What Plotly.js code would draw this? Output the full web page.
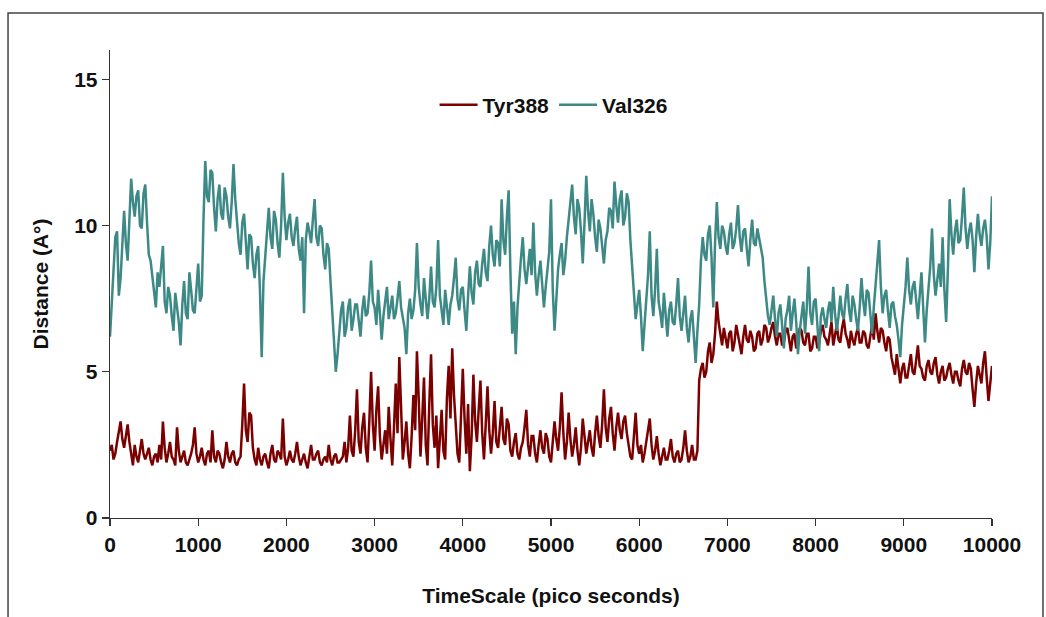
<!DOCTYPE html>
<html>
<head>
<meta charset="utf-8">
<script src="https://cdn.plot.ly/plotly-3.0.1.min.js"></script>
<style>
html,body{margin:0;padding:0;background:#fff;}
#chart{width:1046px;height:617px;}
</style>
</head>
<body>
<div id="chart"></div>
<script>
// Time grid (pico seconds), sampled every 20 ps
const timeStep = 20;
const time = Array.from({length: 501}, (_, i) => i * timeStep);

const tyr388 = [
  2.3,2.5,2.0,2.2,2.6,2.9,3.3,2.7,2.4,2.8,3.2,2.6,2.1,1.8,2.5,2.1,1.9,2.3,2.7,2.2,
  2.0,2.2,2.4,2.0,1.8,2.1,2.2,1.9,2.5,2.0,3.3,2.4,1.9,2.2,2.6,2.1,2.0,1.8,3.1,2.3,
  1.9,2.1,2.3,1.9,1.8,2.0,2.2,2.5,3.1,2.2,1.9,2.1,2.4,2.0,1.8,2.2,2.3,1.9,3.0,2.1,
  1.9,2.3,2.2,1.9,1.7,2.0,2.6,2.1,1.9,2.2,2.3,1.9,1.8,2.0,2.1,3.2,4.6,3.0,2.6,3.6,
  3.5,2.4,2.0,1.8,2.4,2.0,1.8,2.1,2.2,1.9,1.7,2.2,2.5,2.0,1.9,2.3,2.2,2.0,3.4,2.1,
  1.8,2.0,2.3,2.0,1.9,2.2,2.6,2.1,1.8,2.0,2.2,1.9,1.7,2.1,2.5,2.0,2.0,2.2,2.3,1.9,
  1.8,2.0,2.1,1.9,2.5,2.0,1.8,2.1,2.2,1.9,1.9,2.0,2.1,2.6,1.9,2.4,3.5,2.3,2.1,3.0,
  4.4,2.6,2.2,3.1,3.6,2.4,1.9,3.3,5.0,3.2,2.3,3.7,4.5,2.8,2.0,2.5,3.0,2.2,3.8,2.7,
  1.8,3.1,4.6,2.9,5.5,3.8,2.0,2.6,3.3,2.2,1.7,2.8,4.2,3.0,5.7,4.1,2.1,3.4,4.8,2.5,
  1.8,3.9,5.6,3.2,2.4,3.5,1.7,2.7,3.7,2.3,2.0,4.1,5.2,3.4,5.8,4.2,3.0,2.2,1.9,3.6,
  5.1,3.4,2.2,3.9,1.6,2.8,4.9,3.3,2.6,3.7,4.7,2.9,2.0,3.2,4.5,3.0,2.2,2.9,4.0,2.6,
  2.4,3.1,3.8,2.7,2.5,3.4,3.2,2.3,2.1,2.6,2.9,2.2,2.0,2.4,2.6,3.1,3.7,2.5,2.1,2.8,
  2.8,2.2,1.9,2.5,3.0,2.4,2.2,2.9,2.7,2.1,1.9,2.6,3.3,2.7,2.3,3.1,4.3,2.9,2.0,2.6,
  3.6,2.7,2.1,2.5,3.1,2.3,1.8,2.4,3.4,2.8,2.2,2.6,3.0,2.4,2.1,2.9,3.5,2.8,2.4,3.2,
  4.4,3.1,2.6,3.4,3.8,2.9,2.3,3.1,3.6,3.0,2.7,3.3,3.5,2.9,2.4,2.1,2.0,2.7,3.6,2.5,
  2.2,2.5,1.9,2.2,2.6,2.9,3.4,2.5,2.0,2.3,2.8,2.2,1.8,2.1,2.4,2.0,2.0,2.3,2.7,2.1,
  1.9,2.2,2.3,1.9,2.0,2.4,3.0,2.3,1.9,2.1,2.5,2.0,2.0,2.3,4.7,5.1,5.3,4.8,5.0,5.7,
  6.0,5.3,5.6,6.3,7.4,6.7,6.2,5.9,6.5,6.1,5.8,6.3,6.4,5.7,6.0,6.6,6.3,5.9,5.6,6.2,
  6.6,6.1,6.0,6.4,6.2,5.7,5.8,6.3,6.4,5.9,6.1,6.6,6.5,6.0,6.2,6.5,6.7,6.2,5.9,6.3,
  6.3,5.9,6.0,6.4,6.5,6.1,5.7,6.2,6.3,5.8,6.0,6.5,6.4,6.0,5.9,6.3,6.3,5.7,5.8,6.2,
  6.2,5.8,6.0,6.4,6.6,6.2,6.1,5.9,6.4,6.7,5.9,6.3,6.6,6.1,6.0,6.5,6.8,6.3,6.1,5.8,
  6.4,6.1,5.9,6.3,6.5,6.0,6.0,6.4,6.3,5.9,5.8,6.2,6.6,6.1,7.0,6.4,6.0,6.5,6.4,6.0,
  5.7,6.2,6.1,5.5,5.2,4.9,5.6,5.0,4.6,5.1,5.3,4.8,4.8,5.2,5.6,5.0,4.9,5.4,5.9,5.2,
  5.1,4.8,4.7,5.2,5.4,5.0,4.9,5.3,5.5,4.9,4.6,5.0,5.2,4.7,4.8,5.1,5.3,4.9,4.6,5.0,
  5.0,4.7,4.5,5.1,5.4,5.0,4.9,5.3,5.1,4.4,3.8,4.6,5.2,4.9,4.6,5.3,5.7,4.8,4.0,4.6,
  5.2
];

const val326 = [
  6.2,7.4,8.6,9.6,9.8,7.6,8.2,9.3,10.5,9.4,8.8,10.2,11.6,10.8,10.3,11.0,11.2,10.0,9.9,11.1,
  11.4,10.1,9.0,8.8,8.3,7.6,7.2,8.4,7.9,8.6,9.3,7.4,7.0,7.9,7.6,6.9,6.4,7.7,7.2,6.7,
  5.9,7.3,8.1,7.0,6.8,8.4,7.8,7.1,7.0,7.9,8.7,7.4,7.6,10.2,12.2,11.0,10.8,11.9,11.8,10.6,
  9.8,10.9,11.4,10.4,10.2,11.3,11.0,10.3,9.9,10.8,12.1,10.9,10.2,9.4,9.0,10.1,10.4,9.3,8.5,9.7,
  9.6,8.7,8.2,9.0,9.3,7.8,5.5,8.1,9.0,9.8,10.6,9.6,9.2,10.5,10.2,9.4,8.9,10.0,11.8,10.3,
  9.5,10.1,10.4,9.6,9.3,9.9,10.3,9.2,8.8,9.6,7.0,9.5,10.1,9.8,9.4,10.2,10.9,9.6,9.3,10.0,
  9.9,9.0,8.5,9.4,9.2,8.1,7.0,6.1,5.0,5.6,6.3,7.1,7.4,6.2,6.5,7.2,7.5,6.4,6.8,7.3,
  7.3,6.7,6.2,7.1,7.6,6.9,7.0,7.7,8.8,7.4,7.2,6.6,7.8,7.0,6.1,6.9,7.4,7.9,6.8,7.3,
  7.6,6.8,7.0,7.5,8.1,7.2,6.9,6.5,5.6,7.0,7.5,6.8,7.1,7.8,9.4,7.9,7.3,6.9,8.2,7.4,
  6.8,7.5,8.6,7.4,7.2,7.9,9.5,7.6,7.0,6.6,7.8,7.2,6.6,7.3,7.6,8.2,8.9,7.5,7.1,7.8,
  7.9,7.1,6.4,7.6,8.6,7.7,7.3,8.4,8.8,8.0,7.9,8.7,9.2,8.4,8.1,9.3,10.0,9.0,8.6,9.5,
  9.4,8.6,10.9,9.5,9.0,10.3,11.2,8.4,6.3,7.4,5.6,7.2,8.2,8.9,9.6,8.5,8.0,8.7,9.2,8.3,
  10.1,8.4,7.6,8.3,8.8,8.0,7.2,7.9,8.4,9.1,10.9,7.8,6.4,7.7,8.5,9.0,9.4,8.3,8.8,9.6,
  10.2,10.8,11.4,10.3,9.7,10.9,10.6,9.8,8.7,10.1,11.7,10.5,9.8,10.9,10.4,9.6,9.1,10.2,9.9,9.3,
  8.7,9.5,9.8,10.6,10.5,9.9,11.5,10.7,10.1,10.9,11.2,10.0,10.3,11.1,10.8,9.5,8.6,7.7,6.8,7.3,
  7.8,6.9,5.7,6.6,7.5,8.3,9.8,7.6,6.9,7.8,9.2,7.4,7.0,6.5,7.7,6.9,6.2,7.1,7.4,6.7,
  6.6,7.3,8.2,6.9,6.4,7.0,7.6,6.5,6.0,6.8,7.1,6.2,5.3,6.4,7.3,8.8,9.6,9.0,8.8,9.7,
  10.0,8.9,7.2,9.4,10.8,9.6,9.2,10.0,9.8,9.3,9.0,9.7,10.1,9.2,9.4,9.9,10.7,9.6,9.1,9.8,
  9.9,9.2,8.6,9.5,10.2,9.4,9.3,9.9,9.6,9.2,8.9,8.1,7.4,6.9,6.6,7.2,7.6,6.8,6.2,7.0,
  7.3,6.6,5.8,6.8,7.1,7.6,6.4,7.0,7.5,6.7,5.6,6.4,6.9,7.4,6.3,7.2,8.6,7.0,6.6,7.4,
  7.5,6.6,5.7,6.9,7.2,6.8,6.5,7.1,7.4,6.7,7.9,7.0,6.4,6.9,7.6,7.0,6.8,7.5,8.0,7.1,
  6.7,7.6,7.3,6.8,6.4,7.2,8.2,7.4,6.9,7.8,7.7,7.0,6.3,7.2,8.0,8.6,9.5,7.9,7.0,7.6,
  7.8,7.1,6.5,7.3,7.4,6.9,6.6,6.1,5.5,6.6,7.2,7.9,8.9,7.8,7.3,7.9,8.1,7.4,6.8,7.6,
  8.4,7.2,6.0,7.1,7.8,8.6,9.9,8.3,7.6,8.2,8.7,7.9,9.6,7.8,6.7,8.5,10.9,9.7,9.0,9.8,
  10.2,9.4,9.5,10.3,11.3,9.9,9.2,9.8,10.1,9.5,8.4,9.6,10.4,9.7,9.3,9.9,10.2,9.6,8.5,9.4,
  11.0
];

const seriesNames = ['Tyr388', 'Val326'];
const xTicks = [0,1000,2000,3000,4000,5000,6000,7000,8000,9000,10000];
const yTicks = [0,5,10,15];

const fontFam = '"Liberation Sans", Arial, Helvetica, sans-serif';
const boldFont = {family: fontFam, size: 21, color: '#111', weight: 'bold'};

const traces = [
  {x: time, y: tyr388, name: seriesNames[0], type: 'scatter', mode: 'lines',
   line: {color: '#7b0000', width: 2.5}},
  {x: time, y: val326, name: seriesNames[1], type: 'scatter', mode: 'lines',
   line: {color: '#3d8986', width: 2.5}}
];

const layout = {
  width: 1046, height: 617,
  margin: {l: 110, r: 54, t: 50, b: 99},
  paper_bgcolor: '#ffffff', plot_bgcolor: '#ffffff',
  showlegend: true,
  legend: {orientation: 'h', x: 0.368, y: 0.8825, xanchor: 'left', yanchor: 'middle',
           font: boldFont, bgcolor: 'rgba(0,0,0,0)', tracegroupgap: 0, itemwidth: 38},
  xaxis: {
    range: [0, 10000], tickvals: xTicks, ticktext: xTicks.map(String),
    showgrid: false, zeroline: false, showline: true, linecolor: '#333', linewidth: 1.3,
    ticks: 'outside', ticklen: 7, tickwidth: 1.3, tickcolor: '#333',
    tickfont: boldFont,
    title: {text: 'TimeScale (pico seconds)', font: boldFont, standoff: 33}
  },
  yaxis: {
    range: [0, 16], tickvals: yTicks, ticktext: yTicks.map(String),
    showgrid: false, zeroline: false, showline: true, linecolor: '#333', linewidth: 1.3,
    ticks: 'outside', ticklen: 7, tickwidth: 1.3, tickcolor: '#333',
    tickfont: boldFont,
    title: {text: 'Distance (A°)', font: boldFont, standoff: 19}
  },
  shapes: [
    {type: 'rect', xref: 'paper', yref: 'paper',
     x0: -0.1156, x1: 1.0578, y0: -0.25, y1: 1.079,
     line: {color: '#444', width: 1.5}, fillcolor: 'rgba(0,0,0,0)', layer: 'below'}
  ]
};

Plotly.newPlot('chart', traces, layout, {displayModeBar: false, staticPlot: true});
</script>
</body>
</html>
